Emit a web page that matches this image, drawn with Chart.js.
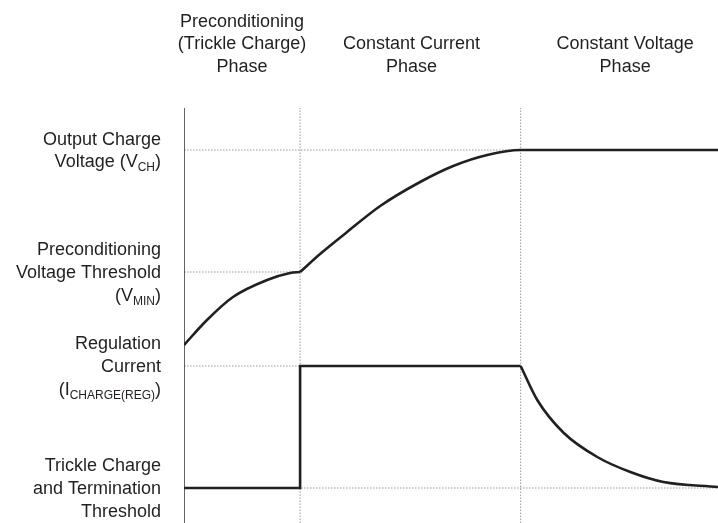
<!DOCTYPE html>
<html>
<head>
<meta charset="utf-8">
<script src="https://cdn.jsdelivr.net/npm/chart.js@4.4.1/dist/chart.umd.min.js"></script>
<style>
  html,body{margin:0;padding:0;background:#fff}
  #chart{display:block}
</style>
</head>
<body>
<canvas id="chart" width="718" height="523"></canvas>
<script>
// x is time (arbitrary units), y is level (arbitrary units)
const xMax = 46;
const yMax = 415;

// battery voltage, preconditioning part
const vPreX = [0, 1.98, 4.22, 7.16, 9.14, 10];
const vPreY = [178, 203, 226, 243, 250, 251];
// battery voltage, constant current + constant voltage
const vMainX = [10, 11.72, 14.05, 16.9, 20.34, 23.19, 26.12, 29, 46];
const vMainY = [251, 269, 291, 317, 341, 357, 368, 373, 373];
// charge current, step part
const iStepX = [0, 10, 10, 29];
const iStepY = [35, 35, 157, 157];
// charge current, taper in CV phase
const iTaperX = [29, 30.43, 32.72, 35.6, 38.45, 41.3, 46];
const iTaperY = [157, 123, 90, 66, 51, 41, 36];

// reference levels (dotted lines) and their labels
const levelY = [373, 251, 157, 35];
const levelEnd = [29, 10, 10, 46];
const levelLabels = [
  ['Output Charge', 'Voltage (V_{CH})'],
  ['Preconditioning', 'Voltage Threshold', '(V_{MIN})'],
  ['Regulation', 'Current', '(I_{CHARGE(REG)})'],
  ['Trickle Charge', 'and Termination', 'Threshold']
];

// phase boundaries and titles
const phaseEdges = [10, 29];
const phaseCenters = [5, 19.6, 38];
const phaseLabels = [
  ['Preconditioning', '(Trickle Charge)', 'Phase'],
  ['Constant Current', 'Phase'],
  ['Constant Voltage', 'Phase']
];

const INK = '#231f20';
const DOT = '#9a9a9a';
const zip = (xs, ys) => xs.map((x, i) => ({x, y: ys[i]}));

const solid = (xs, ys, mode) => ({
  data: zip(xs, ys), borderColor: INK, borderWidth: 2.6, order: 0,
  tension: 0, cubicInterpolationMode: mode || 'default'
});
const dotted = (pts) => ({
  data: pts, borderColor: DOT, borderWidth: 1, borderDash: [1.5, 1.5], order: 2
});

const datasets = [
  solid(vPreX, vPreY, 'monotone'),
  solid(vMainX, vMainY, 'monotone'),
  solid(iStepX, iStepY),
  solid(iTaperX, iTaperY, 'monotone'),
  // y axis line
  {data: [{x: 0, y: 0}, {x: 0, y: yMax}], borderColor: INK, borderWidth: 1.4, order: 1}
];
levelY.forEach((y, i) => datasets.push(dotted([{x: 0, y}, {x: levelEnd[i], y}])));
phaseEdges.forEach(x => datasets.push(dotted([{x, y: 0}, {x, y: yMax}])));

// text with _{sub} parts
const FONT = '"Liberation Sans", Arial, sans-serif';
function richText(ctx, str, x, y, align){
  const parts = str.split(/_\{|\}/);
  const segs = parts.map((t, i) => ({t, sub: i % 2 === 1})).filter(s => s.t);
  const w = s => { ctx.font = (s.sub ? '12px ' : '18px ') + FONT; return ctx.measureText(s.t).width; };
  const total = segs.reduce((a, s) => a + w(s), 0);
  let cx = align === 'right' ? x - total : align === 'center' ? x - total / 2 : x;
  ctx.textAlign = 'left';
  ctx.textBaseline = 'alphabetic';
  segs.forEach(s => {
    const sw = w(s);
    ctx.fillText(s.t, cx, s.sub ? y + 4 : y);
    cx += sw;
  });
}

const labelPlugin = {
  id: 'labels',
  afterDraw(chart){
    const {ctx, scales: {x, y}} = chart;
    const gap = 22.6;
    ctx.save();
    ctx.fillStyle = INK;
    const right = x.getPixelForValue(0) - 23;
    levelLabels.forEach((lines, i) => {
      const cy = y.getPixelForValue(levelY[i]);
      lines.forEach((ln, j) => {
        richText(ctx, ln, right, cy + (j - (lines.length - 1) / 2) * gap + 6, 'right');
      });
    });
    phaseLabels.forEach((lines, i) => {
      const px = x.getPixelForValue(phaseCenters[i]);
      lines.forEach((ln, j) => {
        richText(ctx, ln, px, 72 - (lines.length - 1 - j) * gap, 'center');
      });
    });
    ctx.restore();
  }
};

new Chart(document.getElementById('chart'), {
  type: 'line',
  data: {datasets},
  options: {
    responsive: false,
    animation: false,
    layout: {padding: {left: 184, top: 108, right: 0, bottom: 0}},
    elements: {point: {radius: 0}, line: {borderJoinStyle: 'miter', fill: false}},
    plugins: {legend: {display: false}, tooltip: {enabled: false}},
    scales: {
      x: {type: 'linear', min: 0, max: xMax, display: false},
      y: {type: 'linear', min: 0, max: yMax, display: false}
    }
  },
  plugins: [labelPlugin]
});
</script>
</body>
</html>
